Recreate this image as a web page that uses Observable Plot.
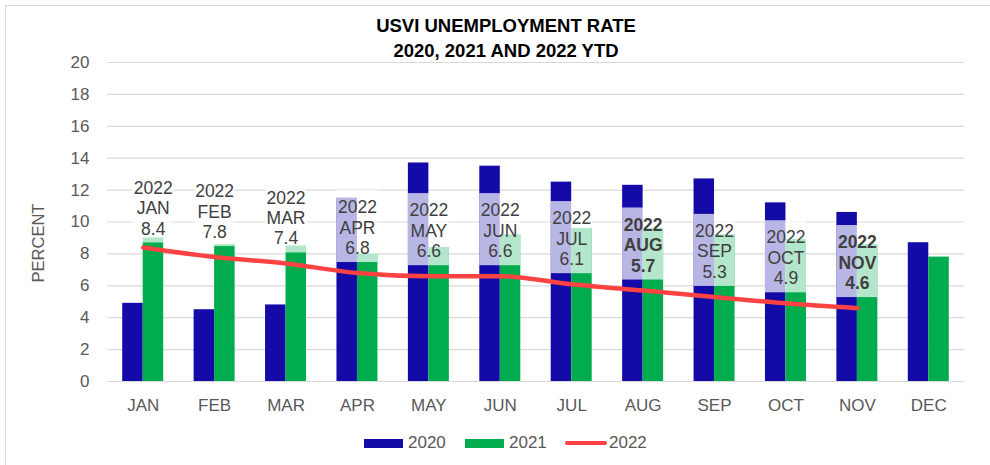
<!DOCTYPE html>
<html>
<head>
<meta charset="utf-8">
<script src="https://cdn.jsdelivr.net/npm/d3@7"></script>
<script src="https://cdn.jsdelivr.net/npm/@observablehq/plot@0.6"></script>
<style>
  html, body { margin: 0; padding: 0; background: #fff; }
  body { width: 990px; height: 465px; position: relative; overflow: hidden;
         font-family: "Liberation Sans", Arial, sans-serif; }
  #frame { position: absolute; left: 5px; top: 5px; width: 1000px; height: 500px;
           border: 1px solid #d9d9d9; box-sizing: border-box; }
  #chart { position: absolute; left: 0; top: 0; }
  #title { position: absolute; left: 0; top: 13px; width: 1012px; text-align: center;
           font-weight: bold; font-size: 18.5px; line-height: 25px; color: #000; }
  #ylabel { position: absolute; left: 38px; top: 243px; white-space: nowrap;
            font-size: 16.5px; color: #595959; line-height: 1;
            transform: translate(-50%, -50%) rotate(-90deg); }
  .sw { position: absolute; height: 9px; top: 438.5px; width: 39px; }
  .ln { position: absolute; height: 4.5px; top: 440.5px; width: 42px; border-radius: 3px; }
  .lt { position: absolute; top: 434px; font-size: 17px; line-height: 17px; color: #595959; }
</style>
</head>
<body>
<div id="frame"></div>
<div id="chart"></div>
<div id="title">USVI UNEMPLOYMENT RATE<br>2020, 2021 AND 2022 YTD</div>
<div id="ylabel">PERCENT</div>
<div id="legend"></div>
<script>
const months = ["JAN","FEB","MAR","APR","MAY","JUN","JUL","AUG","SEP","OCT","NOV","DEC"];
const rate2020 = [4.9, 4.5, 4.8, 11.5, 13.7, 13.5, 12.5, 12.3, 12.7, 11.2, 10.6, 8.7];
const rate2021 = [9.0, 8.6, 8.5, 8.0, 8.4, 9.2, 9.6, 9.6, 9.2, 8.9, 8.6, 7.8];
const rate2022 = [8.4, 7.8, 7.4, 6.8, 6.6, 6.6, 6.1, 5.7, 5.3, 4.9, 4.6];
const yTicks = [0, 2, 4, 6, 8, 10, 12, 14, 16, 18, 20];
const seriesNames = ["2020", "2021", "2022"];
const seriesColors = ["#130AA8", "#00AC4E", "#FF4343"];
const boldMonths = ["AUG", "NOV"];
const shiftedMonths = ["JAN"];

const bars = months.map((m, i) => ({month: m, v2020: rate2020[i], v2021: rate2021[i]}));
const pts = rate2022.map((v, i) => ({
  month: months[i], value: v,
  label: `2022\n${months[i]}\n${v.toFixed(1)}`
}));
const normal = pts.filter(d => !boldMonths.includes(d.month) && !shiftedMonths.includes(d.month));
const bold = pts.filter(d => boldMonths.includes(d.month));
const shifted = pts.filter(d => shiftedMonths.includes(d.month));

const boxOpts = {x: "month", y1: d => d.value + 0.66, y2: d => d.value + 5.18, fill: "white", fillOpacity: 0.7};
const txtOpts = {x: "month", y: "value", text: "label", lineAnchor: "bottom", dy: -19,
                 fontSize: 17.5, lineHeight: 1.17, fill: "#404040"};

const plot = Plot.plot({
  width: 990, height: 465,
  marginTop: 62, marginBottom: 84, marginLeft: 107, marginRight: 26,
  x: {type: "band", domain: months, paddingInner: 0.426, paddingOuter: 0.213, round: false, label: null},
  y: {domain: [0, 20], label: null},
  style: {fontFamily: "Liberation Sans, Arial, sans-serif", fontSize: "17px", color: "#595959", background: "transparent", overflow: "visible"},
  marks: [
    Plot.ruleY(yTicks, {stroke: "#d9d9d9", strokeWidth: 1.2}),
    Plot.barY(bars, {x: "month", y: "v2020", fill: seriesColors[0], insetRight: 20.5}),
    Plot.barY(bars, {x: "month", y: "v2021", fill: seriesColors[1], insetLeft: 20.5}),
    Plot.line(pts, {x: "month", y: "value", stroke: seriesColors[2], strokeWidth: 4.5, curve: "monotone-x", strokeLinecap: "round"}),
    Plot.barY(normal, boxOpts),
    Plot.barY(bold, boxOpts),
    Plot.barY(shifted, {...boxOpts, dx: 10, dy: 6}),
    Plot.text(normal, txtOpts),
    Plot.text(bold, {...txtOpts, fontWeight: "bold"}),
    Plot.text(shifted, {...txtOpts, dx: 10, dy: -13}),
    Plot.axisY({ticks: yTicks, tickSize: 0, tickPadding: 18, label: null}),
    Plot.axisX({tickSize: 0, tickPadding: 17, label: null})
  ]
});
document.getElementById("chart").appendChild(plot);

// legend
const legend = document.getElementById("legend");
const legendX = [364, 465, 565];
seriesNames.forEach((name, i) => {
  const sw = document.createElement("div");
  sw.className = i === 2 ? "ln" : "sw";
  sw.style.left = legendX[i] + "px";
  sw.style.background = seriesColors[i];
  legend.appendChild(sw);
  const t = document.createElement("div");
  t.className = "lt";
  t.style.left = (legendX[i] + 44) + "px";
  t.textContent = name;
  legend.appendChild(t);
});
</script>
</body>
</html>
